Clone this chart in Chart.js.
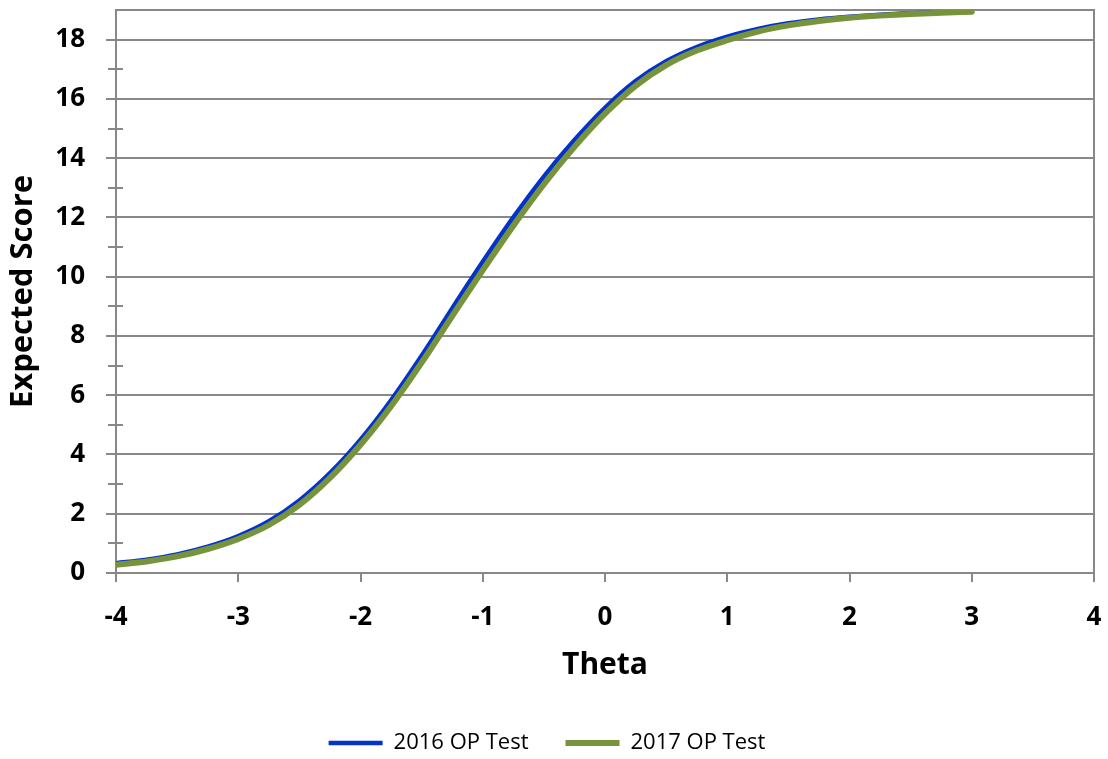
<!DOCTYPE html>
<html><head><meta charset="utf-8">
<script src="https://cdn.jsdelivr.net/npm/chart.js@4.4.1/dist/chart.umd.min.js"></script>
<style>html,body{margin:0;padding:0;background:#fff;}</style>
</head><body>
<canvas id="c" width="1108" height="759"></canvas>
<script>
const theta = [-4,-3.75,-3.5,-3.25,-3,-2.75,-2.5,-2.25,-2,-1.75,-1.5,-1.25,-1,-0.75,-0.5,-0.25,0,0.25,0.5,0.75,1,1.25,1.5,1.75,2,2.25,2.5,2.75,3];
const score2016 = [0.33,0.45,0.63,0.89,1.25,1.75,2.45,3.37,4.5,5.83,7.33,8.93,10.5,12.0,13.38,14.61,15.7,16.6,17.27,17.75,18.1,18.36,18.55,18.68,18.77,18.84,18.89,18.925,18.95];
const score2017 = [0.28,0.39,0.56,0.81,1.15,1.62,2.3,3.21,4.33,5.63,7.1,8.67,10.22,11.72,13.12,14.38,15.5,16.44,17.14,17.63,17.98,18.27,18.48,18.63,18.74,18.81,18.865,18.905,18.94];
const seriesNames = ['2016 OP Test','2017 OP Test'];
const xTickValues = [-4,-3,-2,-1,0,1,2,3,4];
const yTickValues = [0,2,4,6,8,10,12,14,16,18];
const yMinorTickValues = [1,3,5,7,9,11,13,15,17];

const GRID = '#888888';
const FONT = 'Open Sans';

const framePlugin = {
  id: 'frame',
  beforeDatasetsDraw(chart) {
    const {ctx, chartArea: a, scales} = chart;
    ctx.save();
    ctx.strokeStyle = GRID;
    ctx.lineWidth = 2;
    ctx.beginPath();
    ctx.moveTo(a.left, a.top); ctx.lineTo(a.right, a.top); ctx.lineTo(a.right, a.bottom);
    yMinorTickValues.forEach(v => {
      const y = Math.round(scales.y.getPixelForValue(v));
      ctx.moveTo(a.left - 8, y); ctx.lineTo(a.left + 7, y);
    });
    ctx.stroke();
    ctx.restore();
  }
};

new Chart(document.getElementById('c'), {
  type: 'line',
  data: {
    datasets: [
      { label: seriesNames[0], data: theta.map((t, i) => ({x: t, y: score2016[i]})),
        borderColor: '#0433CC', backgroundColor: '#0433CC', borderWidth: 4.5, pointRadius: 0,
        cubicInterpolationMode: 'monotone', order: 1, borderCapStyle: 'round' },
      { label: seriesNames[1], data: theta.map((t, i) => ({x: t, y: score2017[i]})),
        borderColor: '#77933C', backgroundColor: '#77933C', borderWidth: 6, pointRadius: 0,
        cubicInterpolationMode: 'monotone', order: 0, borderCapStyle: 'round' }
    ]
  },
  options: {
    responsive: false,
    animation: false,
    devicePixelRatio: 1,
    layout: { padding: { top: 10, right: 14, left: 0, bottom: -5 } },
    plugins: {
      tooltip: { enabled: false },
      legend: {
        position: 'bottom',
        labels: {
          usePointStyle: true, pointStyle: 'line', pointStyleWidth: 54,
          font: { family: FONT, size: 22 }, color: '#000', padding: 37,
          sort: (a, b) => a.datasetIndex - b.datasetIndex
        }
      }
    },
    scales: {
      x: {
        type: 'linear', min: -4, max: 4,
        afterBuildTicks: s => { s.ticks = xTickValues.map(v => ({value: v})); },
        afterFit: s => { s.height = 122; s.paddingLeft = 0; s.paddingRight = 0; },
        ticks: { font: { family: FONT, size: 26, weight: 'bold' }, color: '#000', padding: 20,
                 maxRotation: 0, autoSkip: false, callback: v => String(v) },
        grid: { drawOnChartArea: false, color: GRID, lineWidth: 2, tickLength: 9 },
        border: { color: GRID, width: 2 },
        title: { display: true, text: 'Theta', color: '#000',
                 font: { family: FONT, size: 30, weight: 'bold' }, padding: { top: 0, bottom: 12 } }
      },
      y: {
        type: 'linear', min: 0, max: 19,
        afterBuildTicks: s => { s.ticks = yTickValues.map(v => ({value: v})); },
        afterFit: s => { s.width = 116; s.paddingTop = 0; s.paddingBottom = 0; },
        ticks: { font: { family: FONT, size: 26, weight: 'bold' }, color: '#000', padding: 21,
                 autoSkip: false, callback: v => String(v) },
        grid: { color: GRID, lineWidth: 2, tickLength: 10 },
        border: { color: GRID, width: 2 },
        title: { display: true, text: 'Expected Score', color: '#000',
                 font: { family: FONT, size: 31, weight: 'bold' }, padding: { top: 5, bottom: 0 } }
      }
    }
  },
  plugins: [framePlugin]
});
</script>
</body></html>
